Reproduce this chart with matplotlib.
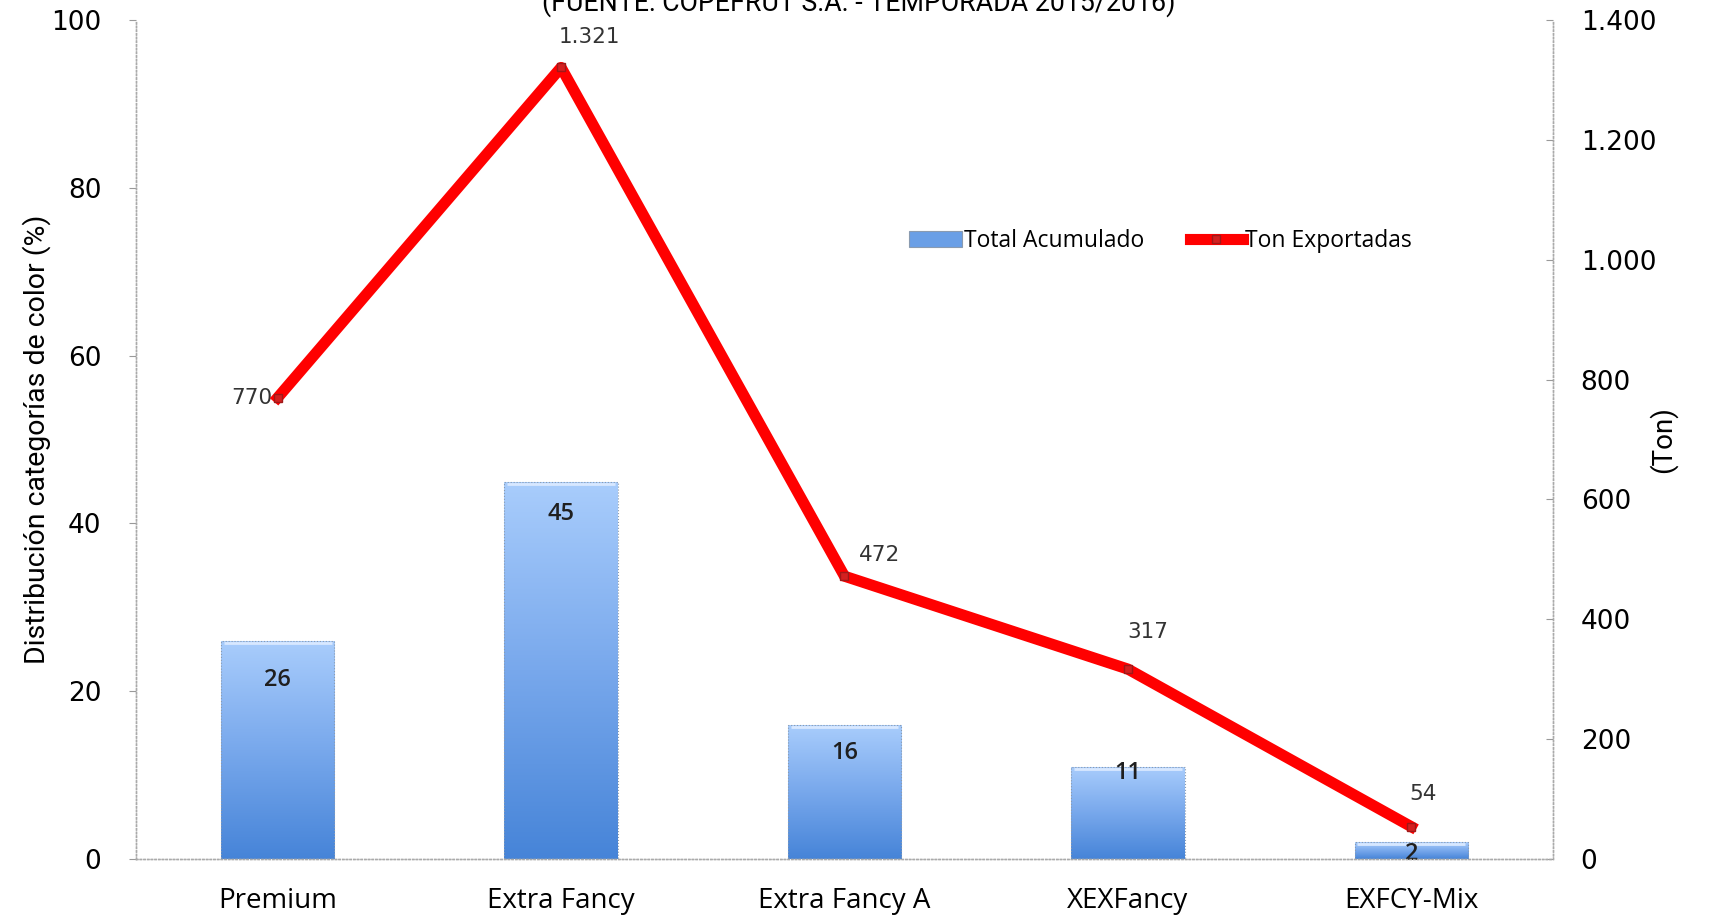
import numpy as np
import matplotlib
matplotlib.use("Agg")
import matplotlib.pyplot as plt
from matplotlib.colors import LinearSegmentedColormap
from matplotlib.ticker import FuncFormatter

categorias = ["Premium", "Extra Fancy", "Extra Fancy A", "XEXFancy", "EXFCY-Mix"]
total_acumulado = [26, 45, 16, 11, 2]
ton_exportadas = [770, 1321, 472, 317, 54]
etiquetas_ton = ["770", "1.321", "472", "317", "54"]

plt.rcParams['font.family'] = ['DejaVu Sans']
fuente_estrecha = ["Liberation Sans Narrow", "Roboto", "DejaVu Sans"]

fig = plt.figure(figsize=(17.15, 9.15), dpi=100)
ax = fig.add_axes([0.0793, 0.0612, 0.8262, 0.9168])
ax2 = ax.twinx()

x = np.arange(len(categorias))
ancho = 0.4

# barras con degradado
cmap = LinearSegmentedColormap.from_list("azul", ["#4684d8", "#78a8ec", "#a9cdfc"])
grad = np.linspace(0, 1, 256).reshape(-1, 1)
barras = ax.bar(x, total_acumulado, width=ancho, color="none", edgecolor="#8a9bb0",
                linewidth=0.8, linestyle=":", zorder=3, label="Total Acumulado")
for b in barras:
    x0, y0 = b.get_x(), b.get_y()
    w, h = b.get_width(), b.get_height()
    im = ax.imshow(grad, extent=[x0, x0 + w, y0, y0 + h], origin="lower",
                   cmap=cmap, aspect="auto", zorder=2)
    im.set_clip_path(b)
    ax.plot([x0 + 0.01, x0 + w - 0.01], [y0 + h - 0.25, y0 + h - 0.25],
            color="#d8e8ff", lw=2, zorder=3, solid_capstyle="butt")

# etiquetas de barras
desplaz_barras = [-39, -32, -28, -6, -12]
for xi, v, d in zip(x, total_acumulado, desplaz_barras):
    ax.annotate(str(v), (xi, v), xytext=(0, d), textcoords="offset pixels",
                ha="center", va="center", fontsize=17, color="#1f1f1f",
                family="Open Sans", fontweight="semibold", zorder=5)

ax.set_xlim(-0.5, len(categorias) - 0.5)
ax.set_ylim(0, 100)
ax.set_yticks(range(0, 101, 20))
ax.set_xticks(x)
ax.set_xticklabels(categorias, fontsize=20, family="Open Sans")
ax.tick_params(axis="x", length=0, pad=20)
ax.tick_params(axis="y", labelsize=19, length=5, color="#999999", pad=20, direction="out")
ax.set_ylabel("Distribución categorías de color (%)", fontsize=20.5,
              family=fuente_estrecha, labelpad=0)

# linea
linea, = ax2.plot(x, ton_exportadas, color="#ff0000", lw=8, marker="s", markersize=6,
                  markerfacecolor="#d42020", markeredgecolor="#a01818", zorder=4,
                  label="Ton Exportadas")
desplaz_linea = [(-26, 0), (28, 30), (35, 21), (20, 37), (12, 33)]
for xi, v, t, d in zip(x, ton_exportadas, etiquetas_ton, desplaz_linea):
    ax2.annotate(t, (xi, v), xytext=d, textcoords="offset pixels",
                 ha="center", va="center", fontsize=15.5, color="#333333")

ax2.set_ylim(0, 1400)
ax2.set_yticks(range(0, 1401, 200))
ax2.yaxis.set_major_formatter(FuncFormatter(lambda v, p: f"{int(v):,}".replace(",", ".")))
ax2.tick_params(axis="y", labelsize=19, length=5, color="#999999", pad=20, direction="in")
ax2.set_ylabel("(Ton)", fontsize=20, family=fuente_estrecha, labelpad=-6)

for a in (ax, ax2):
    a.spines["top"].set_visible(False)
    for s in ("left", "right", "bottom"):
        a.spines[s].set_color("#aaaaaa")
        a.spines[s].set_linewidth(1)
        a.spines[s].set_linestyle(":")

ax.set_zorder(ax2.get_zorder() - 1)
ax2.patch.set_visible(False)
ax.patch.set_visible(False)

leg = ax2.legend(handles=[barras, linea], loc="center", bbox_to_anchor=(0.723, 0.737),
                 ncol=2, frameon=False, handlelength=2.3, columnspacing=2.0,
                 handletextpad=0.1, prop={"family": "Open Sans", "size": 16.5})
leg.legend_handles[0].set_facecolor("#6a9fe6")
leg.legend_handles[0].set_linestyle("-")

fig.text(0.501, 1 - 17 / 915, "(FUENTE: COPEFRUT S.A. - TEMPORADA 2015/2016)",
         ha="center", va="bottom", fontsize=19.3, family=fuente_estrecha)

fig.savefig("out.png", dpi=100)
